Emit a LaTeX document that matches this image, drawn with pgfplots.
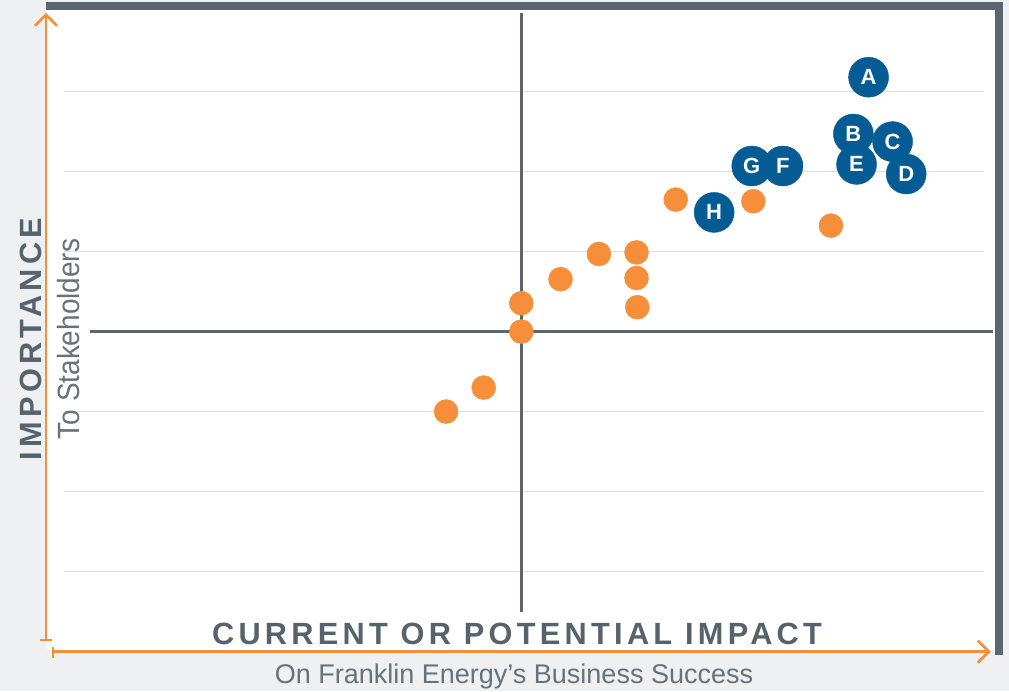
\documentclass[border=0pt]{standalone}
\usepackage{pgfplots}
\pgfplotsset{compat=1.18}
\usepackage{fontspec}
\usepackage{graphicx}
\setmainfont{Liberation Sans}
\newfontfamily\trackfont[LetterSpace=14]{Liberation Sans}
\usetikzlibrary{arrows.meta}

\definecolor{pagebg}{HTML}{EEF0F2}
\definecolor{frame}{HTML}{5B6670}
\definecolor{accent}{HTML}{F68E3A}
\definecolor{topic}{HTML}{055B94}
\definecolor{gridc}{HTML}{DDE0E3}
\definecolor{labelc}{HTML}{56626C}
\definecolor{sublabel}{HTML}{67727B}

% material topics: impact on business (x) vs importance to stakeholders (y)
\pgfplotstableread{
x      y
-0.94  -1.00
-0.47  -0.70
 0.00   0.00
 0.00   0.355
 0.49   0.655
 0.97   0.97
 1.44   0.99
 1.44   0.67
 1.45   0.305
 1.93   1.65
 2.90   1.63
 3.87   1.325
}\othertopics

\pgfplotstableread{
x     y      label
4.34  3.18   A
4.15  2.47   B
4.64  2.375  C
4.19  2.09   E
4.81  1.97   D
2.88  2.07   G
3.27  2.07   F
2.41  1.49   H
}\keytopics

\begin{document}
\begin{tikzpicture}[x=1pt,y=1pt]
\useasboundingbox (0,0) rectangle (1009,691);
\fill[pagebg] (0,0) rectangle (1009,691);
\begin{axis}[
  at={(46pt,41pt)}, anchor=south west,
  scale only axis, width=949pt, height=640pt,
  xmin=-5.94, xmax=5.92, ymin=-3.98, ymax=4.02,
  axis line style={draw=none}, xtick=\empty, ytick=\empty,
  axis background/.style={fill=white},
  clip=false,
]
\pgfplotsinvokeforeach{-3,-2,-1,1,2,3}{
  \draw[gridc, line width=1.5pt] (axis cs:-5.72,#1) -- (axis cs:5.78,#1);
}
\draw[frame, line width=2.5pt] (axis cs:-5.39,0) -- (axis cs:5.90,0);
\draw[frame, line width=2.5pt] (axis cs:0,-3.50) -- (axis cs:0,3.98);

\addplot[only marks, mark=*, mark size=12pt, color=accent,
  mark options={draw=none}] table[x=x, y=y] {\othertopics};

\addplot[only marks, mark=*, mark size=20pt, color=topic,
  mark options={draw=none},
  point meta=explicit symbolic, nodes near coords,
  every node near coord/.append style={anchor=center, text=white,
    font=\fontsize{22}{22}\selectfont\bfseries}]
  table[x=x, y=y, meta=label] {\keytopics};
\end{axis}

% heavy frame on top and right
\fill[frame] (46,681) rectangle (1003,689);
\fill[frame] (995,36) rectangle (1003,689);

% orange axis arrows
\draw[accent, line width=2.6pt, -{Straight Barb[length=11pt,width=22pt]}] (46,51) -- (46,678);
\draw[accent, line width=2.6pt] (40,51) -- (52,51);
\draw[accent, line width=2.6pt, -{Straight Barb[length=11pt,width=22pt]}] (53,39.3) -- (990.7,39.3);
\draw[accent, line width=2.6pt] (53,33.5) -- (53,44.5);

% axis titles
\node[anchor=base, text=labelc, inner sep=0pt] at (517,47)
  {\trackfont\bfseries\fontsize{30.7}{36}\selectfont CURRENT OR POTENTIAL IMPACT};
\node[anchor=base, text=sublabel, inner sep=0pt] at (514,8)
  {\fontsize{27}{30}\selectfont On Franklin Energy’s Business Success};
\node[rotate=90, anchor=base, text=labelc, inner sep=0pt] at (41,352)
  {\trackfont\bfseries\fontsize{30.7}{36}\selectfont IMPORTANCE};
\node[rotate=90, anchor=base, text=sublabel, inner sep=0pt] at (79,352)
  {\scalebox{0.91}[1]{\fontsize{30.7}{36}\selectfont To Stakeholders}};
\end{tikzpicture}
\end{document}
